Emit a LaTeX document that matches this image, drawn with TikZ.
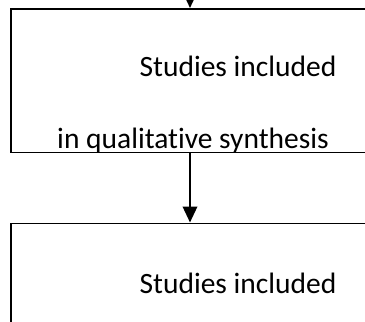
\documentclass[tikz,border=0pt]{standalone}
\usepackage{fontspec}
\setmainfont[Ligatures={NoCommon}]{Carlito}
\usetikzlibrary{arrows.meta}
\begin{document}
\begin{tikzpicture}[x=1pt,y=-1pt,
  box/.style={draw=black,line width=1.7pt,rectangle,inner sep=0pt,anchor=north west},
  lbl/.style={anchor=base,inner sep=0pt,font=\fontsize{29.5}{35}\selectfont},
  arr/.style={line width=2pt,-{Triangle[width=14.5pt,length=16pt]}}]
\useasboundingbox (0,0) rectangle (365,322);
\clip (0,0) rectangle (365,322);
\node[box,minimum width=400pt,minimum height=143.5pt] (b1) at (10,8) {};
\node[box,minimum width=400pt,minimum height=150pt] (b2) at (10,222.5) {};
\node[lbl] (t1) at (238,76) {Studies included};
\node[lbl] (t2) at (193,148) {in qualitative synthesis};
\node[lbl] (t3) at (238,293) {Studies included};
\coordinate (src) at (190,-30);
\draw[arr] (src) -- (src |- b1.north);
\draw[arr] (src |- b1.south) -- (src |- b2.north);
\end{tikzpicture}
\end{document}
